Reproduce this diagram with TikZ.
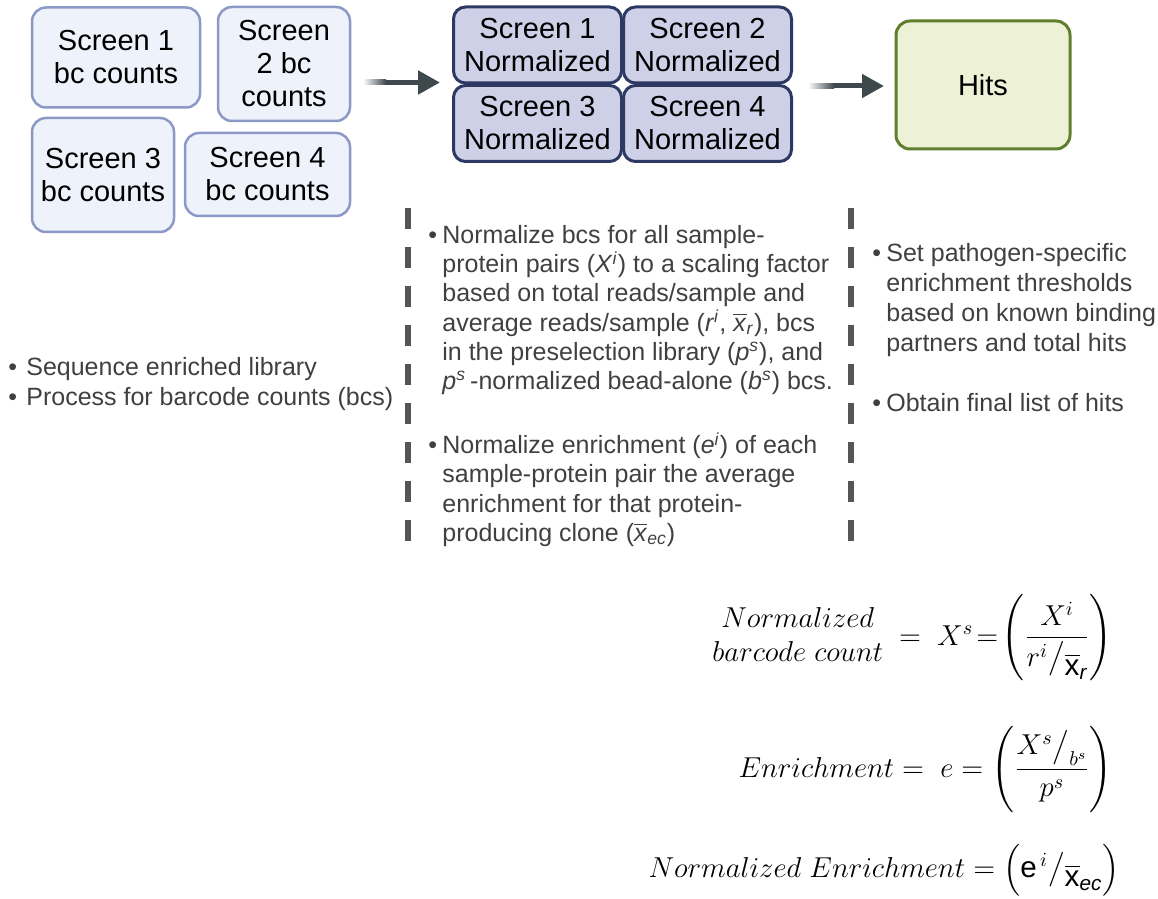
\documentclass[tikz,border=0pt]{standalone}
\usepackage{amsmath}
\usepackage{fontspec}
\setmainfont{Liberation Sans}
\usetikzlibrary{arrows.meta}

\definecolor{countfill}{HTML}{EEF2FB}
\definecolor{countline}{HTML}{8C98C6}
\definecolor{normfill}{HTML}{CDD0E7}
\definecolor{normline}{HTML}{2E3963}
\definecolor{hitfill}{HTML}{EDF1D6}
\definecolor{hitline}{HTML}{5F7F2E}
\definecolor{arrowc}{HTML}{3E494E}
\definecolor{txtc}{HTML}{404040}
\definecolor{dashc}{HTML}{555555}

\newcommand{\bul}{\makebox[7pt][l]{\textbullet}}
\newcommand{\ind}{\hspace*{7pt}}
\newcommand{\sv}[2]{\textit{#1}\textsuperscript{\textit{#2}}}
\newcommand{\xbar}{\ensuremath{\overline{\hbox{\textit{x}}}}}
\newcommand{\lowx}[1]{\lower4.5pt\hbox{$\overline{\text{x}}_{\textit{#1}}$}}

\begin{document}
\begin{tikzpicture}[x=0.5pt,y=-0.5pt,
    counts/.style={draw=countline, fill=countfill, line width=1.25pt, rounded corners=7pt,
      align=center, inner sep=0pt, font=\fontsize{14.5}{16.5}\selectfont},
    normbox/.style={draw=normline, fill=normfill, line width=1.5pt, rounded corners=6pt,
      align=center, inner sep=0pt, minimum width=84pt, minimum height=38pt,
      font=\fontsize{14.5}{16.5}\selectfont},
    hitbox/.style={draw=hitline, fill=hitfill, line width=1.5pt, rounded corners=7pt,
      inner sep=0pt, minimum width=87pt, minimum height=64pt, font=\fontsize{14.5}{16.5}\selectfont},
    flow/.style={arrowc, line width=2.5pt, -{Triangle[length=11pt,width=11.5pt]}},
    divider/.style={dashc, line width=3pt, dash pattern=on 10.5pt off 9pt},
    notes/.style={text=txtc, align=left, anchor=north west, inner sep=0pt,
      font=\fontsize{12.5}{14.6}\selectfont},
    formula/.style={anchor=base east, inner sep=0pt, font=\fontsize{14.8}{17}\selectfont}]
  \useasboundingbox (0,0) rectangle (1158,899);

  % raw barcode counts
  \node[counts, minimum width=84pt, minimum height=50pt] (s1) at (116,57.5) {Screen 1\\bc counts};
  \node[counts, minimum width=66pt, minimum height=57pt] (s2) at (284,64) {Screen\\2 bc\\counts};
  \node[counts, minimum width=71pt, minimum height=57pt] (s3) at (103,175) {Screen 3\\bc counts};
  \node[counts, minimum width=82.5pt, minimum height=41.5pt] (s4) at (267.5,174.5) {Screen 4\\bc counts};

  % normalized screens
  \node[normbox] (n1) at (537.5,45) {Screen 1\\Normalized};
  \node[normbox] (n2) at (707.5,45) {Screen 2\\Normalized};
  \node[normbox] (n3) at (537.5,123.5) {Screen 3\\Normalized};
  \node[normbox] (n4) at (707.5,123.5) {Screen 4\\Normalized};

  \node[hitbox] (hits) at (983,85) {Hits};

  % arrows
  \coordinate (a1s) at (363,82.5);
  \coordinate (a1m) at (386,82.5);
  \coordinate (a1e) at (440,82.5);
  \shade[left color=white, right color=arrowc] (363,80) rectangle (386,85);
  \draw[flow] (a1m) -- (a1e);
  \coordinate (a2s) at (808,86);
  \coordinate (a2m) at (834,86);
  \coordinate (a2e) at (884,86);
  \shade[left color=white, right color=arrowc] (808,83.5) rectangle (834,88.5);
  \draw[flow] (a2m) -- (a2e);

  % dashed separators
  \draw[divider] (408,208) -- (408,546);
  \draw[divider] (851,208) -- (851,546);

  % notes
  \node[notes, font=\fontsize{12.5}{15}\selectfont] (seq) at (8,357)
    {\makebox[9pt][l]{\textbullet}Sequence enriched library\\
     \makebox[9pt][l]{\textbullet}Process for barcode counts (bcs)};
  \node[notes] (norm) at (428,225)
    {\bul Normalize bcs for all sample-\\
     \ind protein pairs (\sv{X}{i}) to a scaling factor\\
     \ind based on total reads/sample and\\
     \ind average reads/sample (\sv{r}{i}, \xbar\textsubscript{\textit{r}}), bcs\\
     \ind in the preselection library (\sv{p}{s}), and\\
     \ind \sv{p}{s}\,-normalized bead-alone (\sv{b}{s}) bcs.};
  \node[notes] (enr) at (428,432)
    {\bul Normalize enrichment (\sv{e}{i}) of each\\
     \ind sample-protein pair the average\\
     \ind enrichment for that protein-\\
     \ind producing clone (\xbar\textsubscript{\textit{ec}})};
  \node[notes, font=\fontsize{12.5}{15}\selectfont] (thr) at (872,243)
    {\bul Set pathogen-specific\\
     \ind enrichment thresholds\\
     \ind based on known binding\\
     \ind partners and total hits};
  \node[notes] (fin) at (872,393) {\bul Obtain final list of hits};

  % formulas
  \node[formula] (fnorm) at (1113,645)
    {$\begin{matrix}Normalized\\ barcode\ count\end{matrix} \;=\; X^{s}\!=\!
      \left(\dfrac{X^{i}}{r^{i}\big/\lowx{r}}\right)$};
  \node[formula] (fenr) at (1113,777)
    {$Enrichment =\ e = \left(\dfrac{X^{s}\big/_{b^{s}}}{p^{s}}\right)$};
  \node[formula] (fnen) at (1120,877)
    {$Normalized\ Enrichment = \left(\text{e}^{\,i}\big/\lowx{ec}\right)$};
\end{tikzpicture}
\end{document}
